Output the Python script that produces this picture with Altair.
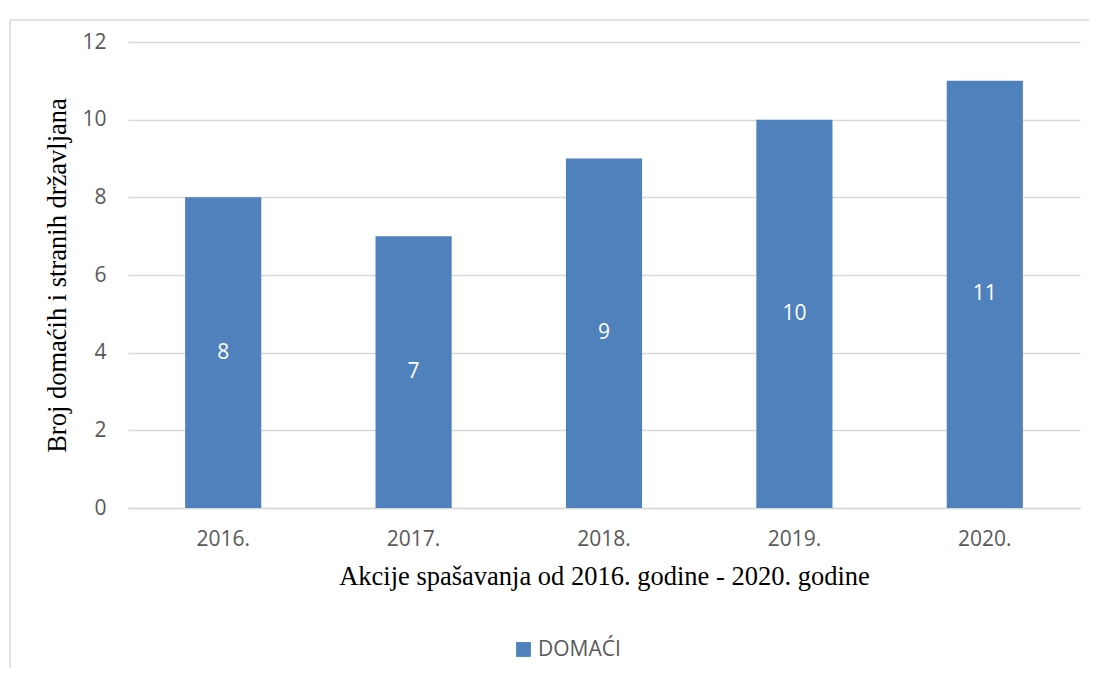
import altair as alt
import pandas as pd

years = ["2016.", "2017.", "2018.", "2019.", "2020."]
values = [8, 7, 9, 10, 11]
series = ["DOMAĆI"] * 5

df = pd.DataFrame({"year": years, "value": values, "series": series})

W, H = 952, 466

base = alt.Chart(df)

bars = base.mark_bar(color="#4F81BD").encode(
    x=alt.X("year:N", sort=years,
            scale=alt.Scale(paddingInner=0.6, paddingOuter=0.3),
            axis=alt.Axis(title="Akcije spašavanja od 2016. godine - 2020. godine",
                          labelAngle=0, labelFontSize=21, labelColor="#595959",
                          labelFont="Open Sans", labelPadding=20, ticks=False,
                          domainColor="#d9d9d9", domainWidth=1.5,
                          titleFont="Liberation Serif", titleFontSize=26.5,
                          titleFontWeight="normal", titleColor="#000000",
                          titlePadding=14)),
    y=alt.Y("value:Q", scale=alt.Scale(domain=[0, 12]),
            axis=alt.Axis(values=[0, 2, 4, 6, 8, 10, 12], title="Broj domaćih i stranih državljana",
                          labelFontSize=21, labelColor="#595959", labelFont="Open Sans",
                          labelPadding=22, ticks=False, domain=False,
                          gridColor="#d9d9d9", gridWidth=1.5,
                          titleFont="Liberation Serif", titleFontSize=26.5,
                          titleFontWeight="normal", titleColor="#000000",
                          titlePadding=10)),
    color=alt.Color("series:N", scale=alt.Scale(range=["#4F81BD"]),
                    legend=alt.Legend(title=None, orient="none", legendX=385, legendY=597,
                                      symbolType="square", symbolSize=220,
                                      symbolStrokeWidth=0,
                                      labelFontSize=21, labelColor="#595959",
                                      labelFont="Open Sans")),
)

labels = base.mark_text(color="white", fontSize=21, font="Open Sans", baseline="middle").encode(
    x=alt.X("year:N", sort=years),
    y=alt.Y("mid:Q"),
    text=alt.Text("value:Q"),
).transform_calculate(mid="datum.value / 2")

border = base.mark_rect(fill=None, stroke="#d9d9d9", strokeWidth=1.5).encode(
    x=alt.value(-118), x2=alt.value(962), y=alt.value(-22), y2=alt.value(700)
).transform_filter("datum.year == '2016.'")

chart = alt.layer(border, bars, labels).properties(
    width=W, height=H,
    padding={"left": 120, "top": 34, "right": 9, "bottom": 160},
    autosize=alt.AutoSizeParams(type="none"),
).configure_view(stroke=None)

chart.save("out.html", embed_options={"renderer": "svg", "actions": False})
